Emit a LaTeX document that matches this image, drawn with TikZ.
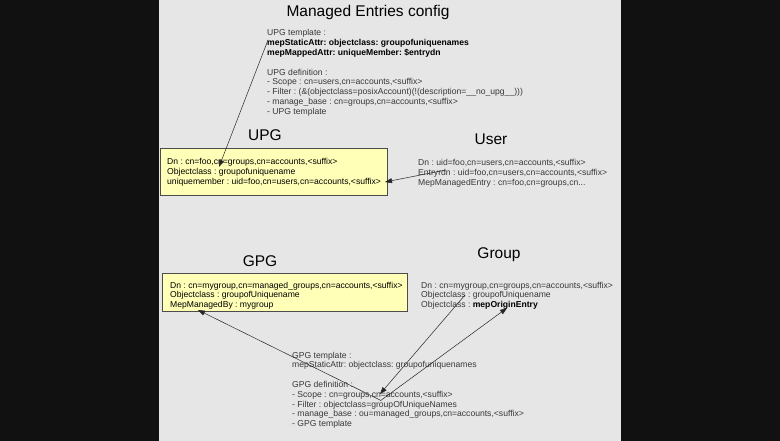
\documentclass[tikz,border=0pt]{standalone}
\usepackage{fontspec}
\setmainfont{Liberation Sans}
\usetikzlibrary{arrows.meta}
\definecolor{panel}{HTML}{E6E6E6}
\definecolor{outer}{HTML}{111111}
\definecolor{boxfill}{HTML}{FFFFB8}
\definecolor{txt}{HTML}{383838}
\tikzset{
  small/.style={font=\fontsize{8.6}{9.8}\selectfont\frenchspacing, inner sep=0pt, align=left, anchor=base west, text=txt},
  boxtext/.style={small, text=black},
  title/.style={font=\fontsize{15.5}{18}\selectfont, inner sep=0pt, text=black},
  box/.style={draw=black!70, fill=boxfill, line width=0.5pt, anchor=north west, inner sep=0pt},
  conn/.style={draw=black!85, line width=0.5pt, -{Triangle[length=7pt,width=5pt]}},
}
\begin{document}
\frenchspacing
\begin{tikzpicture}[x=1pt,y=-1pt]
\useasboundingbox (0,0) rectangle (780,441);
\fill[outer] (0,0) rectangle (780,441);
\fill[panel] (159,0) rectangle (621,441);

% last-line baselines are given (multi-line nodes sit on their last line)
\node[title] (ttl) at (368,12) {Managed Entries config};
\node[small] (cfg) at (267,114.4) {UPG template :\\
\textbf{\textcolor{black}{mepStaticAttr: objectclass: groupofuniquenames}}\\
\textbf{\textcolor{black}{mepMappedAttr: uniqueMember: \$entrydn}}\\[9.8pt]
UPG definition :\\
- Scope : cn=users,cn=accounts,<suffix>\\
- Filter : (\&(objectclass=posixAccount)(!(description=\_\_no\_upg\_\_)))\\
- manage\_base : cn=groups,cn=accounts,<suffix>\\
- UPG template};

\node[title] (tupg) at (265,135) {UPG};
\node[box, minimum width=227pt, minimum height=47pt] (upg) at (160,148) {};
\node[boxtext] (upgtext) at (167,184.6) {Dn : cn=foo,cn=groups,cn=accounts,<suffix>\\
Objectclass : groupofuniquename\\
uniquemember : uid=foo,cn=users,cn=accounts,<suffix>};

\node[title] (tuser) at (491,139) {User};
\node[small] (user) at (418,185.6) {Dn : uid=foo,cn=users,cn=accounts,<suffix>\\
Entryrdn : uid=foo,cn=users,cn=accounts,<suffix>\\
MepManagedEntry : cn=foo,cn=groups,cn...};

\node[title] (tgpg) at (260,261) {GPG};
\node[box, minimum width=245pt, minimum height=38pt] (gpg) at (162,273) {};
\node[boxtext] (gpgtext) at (170,307.6) {Dn : cn=mygroup,cn=managed\_groups,cn=accounts,<suffix>\\
Objectclass : groupofUniquename\\
MepManagedBy : mygroup};

\node[title] (tgroup) at (499,255) {Group};
\node[small] (group) at (421,307.6) {Dn : cn=mygroup,cn=groups,cn=accounts,<suffix>\\
Objectclass : groupofUniquename\\
Objectclass : \textbf{\textcolor{black}{mepOriginEntry}}};

\node[small] (gcfg) at (292,426.6) {GPG template :\\
mepStaticAttr: objectclass: groupofuniquenames\\[9.8pt]
GPG definition :\\
- Scope : cn=groups,cn=accounts,<suffix>\\
- Filter : objectclass=groupOfUniqueNames\\
- manage\_base : ou=managed\_groups,cn=accounts,<suffix>\\
- GPG template};

\coordinate (a1s) at (268,40);
\coordinate (a1e) at (219,167);
\coordinate (a2s) at (446,170);
\coordinate (a2e) at (385,182);
\coordinate (a3s) at (380,400);
\coordinate (a3e) at (198,310);
\coordinate (a4s) at (465,295);
\coordinate (a4e) at (380,394);
\coordinate (a5s) at (380,401);
\coordinate (a5e) at (507,308);

\draw[conn] (a1s) -- (a1e);
\draw[conn] (a2s) -- (a2e);
\draw[conn] (a3s) -- (a3e);
\draw[conn] (a4s) -- (a4e);
\draw[conn] (a5s) -- (a5e);
\end{tikzpicture}
\end{document}
